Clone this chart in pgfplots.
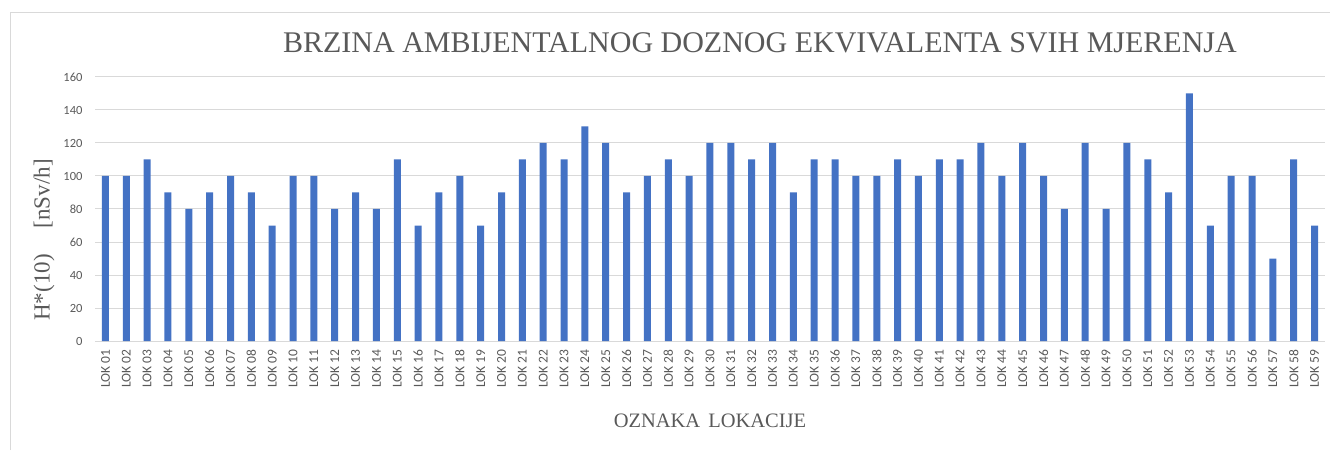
\documentclass[border=0pt]{standalone}
\usepackage{fontspec}
\setmainfont{Liberation Serif}
\newfontfamily\carlito{Carlito}
\usepackage{pgfplots}
\pgfplotsset{compat=1.18}

\definecolor{barblue}{HTML}{4472C4}
\definecolor{txtgray}{HTML}{595959}
\definecolor{gridgray}{HTML}{D9D9D9}

\begin{document}
\begin{tikzpicture}[x=1pt,y=1pt]
\useasboundingbox (0,0) rectangle (1330,450);
% chart frame (top and left edges visible)
\draw[gridgray, line width=0.8pt] (10,0) -- (10,438) -- (1330,438);

\begin{axis}[
    at={(95pt,109pt)}, anchor=south west,
    scale only axis, width=1230pt, height=264pt,
    xmin=0.5, xmax=59.5, ymin=0, ymax=160,
    ytick={0,20,...,160},
    xtick={1,...,59},
    xticklabels={LOK 01,LOK 02,LOK 03,LOK 04,LOK 05,LOK 06,LOK 07,LOK 08,LOK 09,LOK 10,
        LOK 11,LOK 12,LOK 13,LOK 14,LOK 15,LOK 16,LOK 17,LOK 18,LOK 19,LOK 20,
        LOK 21,LOK 22,LOK 23,LOK 24,LOK 25,LOK 26,LOK 27,LOK 28,LOK 29,LOK 30,
        LOK 31,LOK 32,LOK 33,LOK 34,LOK 35,LOK 36,LOK 37,LOK 38,LOK 39,LOK 40,
        LOK 41,LOK 42,LOK 43,LOK 44,LOK 45,LOK 46,LOK 47,LOK 48,LOK 49,LOK 50,
        LOK 51,LOK 52,LOK 53,LOK 54,LOK 55,LOK 56,LOK 57,LOK 58,LOK 59},
    axis line style={draw=none},
    major tick length=0pt,
    ymajorgrids, grid style={gridgray, line width=1pt},
    /pgf/number format/assume math mode=true,
    yticklabel style={font=\carlito\fontsize{12.5}{12.5}\selectfont, text=txtgray},
    xticklabel style={font=\carlito\fontsize{13.5}{13.5}\selectfont, text=txtgray,
        rotate=90, anchor=east},
    yticklabel shift=9pt,
    xticklabel shift=5pt,
    clip=false,
]
\addplot[ybar, bar width=7pt, fill=barblue, draw=none] coordinates {
    (1,100) (2,100) (3,110) (4,90) (5,80) (6,90) (7,100) (8,90) (9,70) (10,100)
    (11,100) (12,80) (13,90) (14,80) (15,110) (16,70) (17,90) (18,100) (19,70) (20,90)
    (21,110) (22,120) (23,110) (24,130) (25,120) (26,90) (27,100) (28,110) (29,100) (30,120)
    (31,120) (32,110) (33,120) (34,90) (35,110) (36,110) (37,100) (38,100) (39,110) (40,100)
    (41,110) (42,110) (43,120) (44,100) (45,120) (46,100) (47,80) (48,120) (49,80) (50,120)
    (51,110) (52,90) (53,150) (54,70) (55,100) (56,100) (57,50) (58,110) (59,70)
};
\end{axis}

% title and axis labels
\node[anchor=base, text=txtgray, font=\fontsize{30}{30}\selectfont] at (760,397)
    {BRZINA AMBIJENTALNOG DOZNOG EKVIVALENTA SVIH MJERENJA};
\node[rotate=90, text=txtgray, font=\fontsize{23}{23}\selectfont] at (44,210)
    {H*(10)\hspace{26pt}[nSv/h]};
\node[anchor=base, text=txtgray, font=\fontsize{20.5}{20.5}\selectfont] at (710,23)
    {OZNAKA\hspace{8pt}LOKACIJE};
\end{tikzpicture}
\end{document}
